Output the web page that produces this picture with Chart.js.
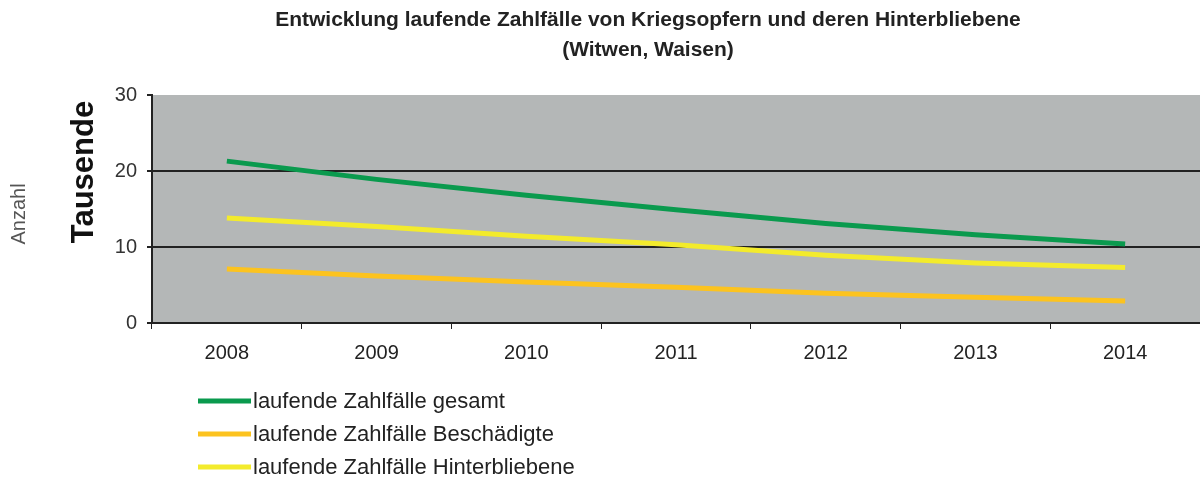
<!DOCTYPE html>
<html>
<head>
<meta charset="utf-8">
<script src="https://cdn.jsdelivr.net/npm/chart.js@4"></script>
<style>
  body { margin: 0; background: #fff; }
  canvas { display: block; }
</style>
</head>
<body>
<canvas id="chart" width="1200" height="481"></canvas>
<script>
// --- data (in thousands) ---
const years = ["2008", "2009", "2010", "2011", "2012", "2013", "2014"];
const gesamt = [21.3, 18.9, 16.8, 14.9, 13.1, 11.6, 10.4];
const beschaedigte = [7.1, 6.2, 5.4, 4.7, 3.9, 3.4, 2.9];
const hinterbliebene = [13.8, 12.7, 11.4, 10.3, 8.9, 7.9, 7.3];
const yTicks = [0, 10, 20, 30];

const seriesNames = [
  "laufende Zahlfälle gesamt",
  "laufende Zahlfälle Beschädigte",
  "laufende Zahlfälle Hinterbliebene"
];
const seriesColors = ["#0a9a4e", "#fcc31f", "#f3eb2c"];

// grauer Hintergrund der Zeichenfläche
const plotBg = {
  id: "plotBg",
  beforeDraw(chart) {
    const { ctx, chartArea: a } = chart;
    ctx.save();
    ctx.fillStyle = "#b4b7b7";
    ctx.fillRect(a.left, a.top, a.right - a.left, a.bottom - a.top);
    ctx.restore();
  }
};

// Achsentitel + Legende unten links
const extras = {
  id: "extras",
  afterDraw(chart) {
    const ctx = chart.ctx;
    ctx.save();

    ctx.fillStyle = "#555";
    ctx.font = "20px Arial, 'Liberation Sans'";
    ctx.textAlign = "center";
    ctx.textBaseline = "middle";
    ctx.translate(19, 214);
    ctx.rotate(-Math.PI / 2);
    ctx.fillText("Anzahl", 0, 0);
    ctx.setTransform(1, 0, 0, 1, 0, 0);

    ctx.fillStyle = "#111";
    ctx.font = "bold 31px Arial, 'Liberation Sans'";
    ctx.translate(84, 172);
    ctx.rotate(-Math.PI / 2);
    ctx.fillText("Tausende", 0, 0);
    ctx.setTransform(1, 0, 0, 1, 0, 0);

    chart.data.datasets.forEach((ds, i) => {
      const y = 401 + i * 33;
      ctx.strokeStyle = ds.borderColor;
      ctx.lineWidth = 5;
      ctx.beginPath();
      ctx.moveTo(198, y);
      ctx.lineTo(251, y);
      ctx.stroke();
      ctx.fillStyle = "#222";
      ctx.font = "22px Arial, 'Liberation Sans'";
      ctx.textAlign = "left";
      ctx.textBaseline = "middle";
      ctx.fillText(ds.label, 253, y + 1);
    });
    ctx.restore();
  }
};

new Chart(document.getElementById("chart"), {
  type: "line",
  data: {
    labels: years,
    datasets: [
      { label: seriesNames[0], data: gesamt, borderColor: seriesColors[0] },
      { label: seriesNames[1], data: beschaedigte, borderColor: seriesColors[1] },
      { label: seriesNames[2], data: hinterbliebene, borderColor: seriesColors[2] }
    ].map(d => ({ ...d, borderWidth: 5, pointRadius: 0, tension: 0, fill: false }))
  },
  options: {
    responsive: false,
    animation: false,
    layout: { padding: { left: 96, right: 0, top: 0, bottom: 113 } },
    plugins: {
      legend: { display: false },
      tooltip: { enabled: false },
      title: {
        display: true,
        text: [
          "Entwicklung laufende Zahlfälle von Kriegsopfern und deren Hinterbliebene",
          "(Witwen, Waisen)"
        ],
        color: "#222",
        font: { family: "Arial, 'Liberation Sans'", size: 21, weight: "bold", lineHeight: 30 / 21 },
        padding: { top: 5, bottom: 30 }
      }
    },
    scales: {
      x: {
        offset: true,
        afterFit: s => { s.height = 45; },
        grid: { offset: true, drawOnChartArea: false, drawTicks: true, tickLength: 6, tickColor: "#222" },
        border: { color: "#222", width: 2 },
        ticks: { color: "#222", padding: 12, maxRotation: 0, font: { family: "Arial, 'Liberation Sans'", size: 20 } }
      },
      y: {
        min: 0,
        max: 30,
        afterFit: s => { s.width = 56; },
        afterBuildTicks: s => { s.ticks = yTicks.map(v => ({ value: v })); },
        grid: {
          color: c => (c.tick && c.tick.value === 30 ? "rgba(0,0,0,0)" : "#222"),
          lineWidth: 2,
          tickLength: 5,
          tickColor: "#222"
        },
        border: { color: "#222", width: 2 },
        ticks: { color: "#333", padding: 10, font: { family: "Arial, 'Liberation Sans'", size: 20 } }
      }
    }
  },
  plugins: [plotBg, extras]
});
</script>
</body>
</html>
